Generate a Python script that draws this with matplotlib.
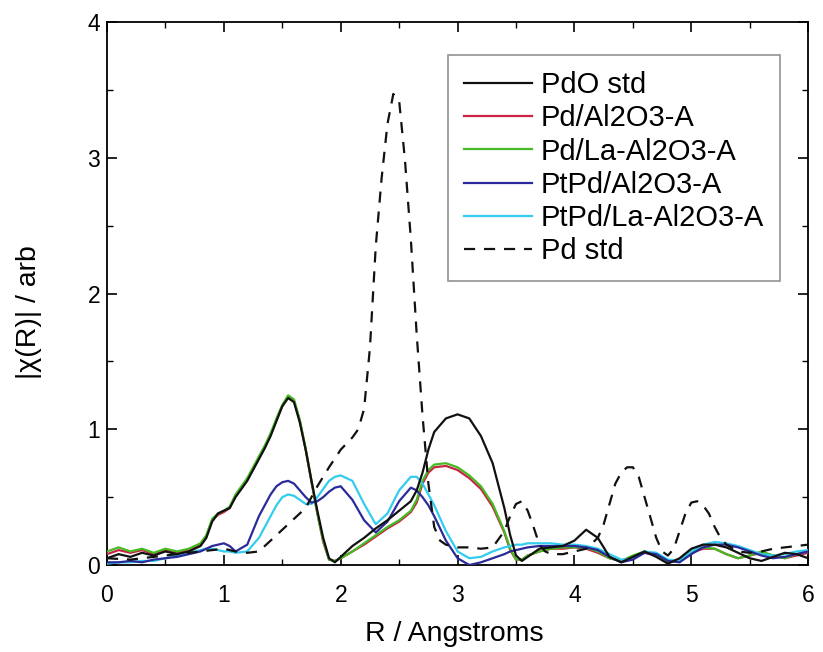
import matplotlib
matplotlib.use("Agg")
import matplotlib.pyplot as plt
from matplotlib.ticker import MultipleLocator

plt.rcParams['font.family'] = ['Liberation Sans', 'DejaVu Sans']

# common R grid for the sample / PdO curves
r = [0, 0.1, 0.2, 0.3, 0.4, 0.5, 0.6, 0.7, 0.8, 0.85, 0.9, 0.95, 1.0, 1.05, 1.1,
     1.2, 1.3, 1.35, 1.4, 1.45, 1.5, 1.55, 1.6, 1.65, 1.7, 1.75, 1.8, 1.85, 1.9,
     1.95, 2.0, 2.1, 2.2, 2.3, 2.4, 2.5, 2.6, 2.65, 2.7, 2.75, 2.8, 2.9, 3.0, 3.1,
     3.2, 3.3, 3.4, 3.45, 3.5, 3.55, 3.6, 3.7, 3.8, 3.9, 4.0, 4.1, 4.2, 4.3, 4.4,
     4.5, 4.6, 4.7, 4.8, 4.9, 5.0, 5.1, 5.2, 5.3, 5.4, 5.5, 5.6, 5.7, 5.8, 5.9, 6.0]

pdo_std = [0.05, 0.08, 0.06, 0.09, 0.07, 0.1, 0.08, 0.1, 0.14, 0.2, 0.32, 0.38,
           0.4, 0.42, 0.5, 0.62, 0.78, 0.86, 0.95, 1.06, 1.17, 1.23, 1.2, 1.05,
           0.85, 0.62, 0.4, 0.2, 0.05, 0.02, 0.06, 0.14, 0.2, 0.27, 0.33, 0.4,
           0.47, 0.55, 0.68, 0.85, 0.98, 1.08, 1.11, 1.08, 0.95, 0.75, 0.42, 0.22,
           0.07, 0.03, 0.06, 0.12, 0.13, 0.14, 0.18, 0.26, 0.2, 0.06, 0.02, 0.06,
           0.1, 0.06, 0.01, 0.05, 0.12, 0.15, 0.15, 0.13, 0.09, 0.05, 0.03, 0.06,
           0.09, 0.08, 0.05]

pd_al2o3 = [0.08, 0.11, 0.09, 0.11, 0.08, 0.11, 0.09, 0.11, 0.15, 0.21, 0.33, 0.37,
            0.39, 0.42, 0.51, 0.63, 0.79, 0.87, 0.96, 1.07, 1.17, 1.24, 1.21, 1.06,
            0.85, 0.61, 0.38, 0.17, 0.04, 0.03, 0.05, 0.1, 0.15, 0.21, 0.27, 0.32,
            0.39, 0.46, 0.6, 0.68, 0.72, 0.73, 0.7, 0.64, 0.56, 0.43, 0.24, 0.11,
            0.04, 0.04, 0.07, 0.1, 0.12, 0.12, 0.13, 0.12, 0.09, 0.05, 0.03, 0.06,
            0.09, 0.07, 0.02, 0.04, 0.09, 0.12, 0.12, 0.08, 0.05, 0.07, 0.09, 0.07,
            0.05, 0.07, 0.09]

pd_la_al2o3 = [0.1, 0.13, 0.1, 0.12, 0.09, 0.12, 0.1, 0.12, 0.16, 0.22, 0.34, 0.38,
               0.4, 0.43, 0.52, 0.64, 0.8, 0.88, 0.97, 1.08, 1.18, 1.25, 1.22, 1.07,
               0.86, 0.62, 0.38, 0.18, 0.04, 0.03, 0.05, 0.1, 0.16, 0.22, 0.28, 0.33,
               0.4, 0.48, 0.62, 0.7, 0.74, 0.75, 0.72, 0.66, 0.58, 0.45, 0.25, 0.12,
               0.04, 0.04, 0.07, 0.1, 0.12, 0.13, 0.13, 0.13, 0.1, 0.05, 0.03, 0.07,
               0.1, 0.07, 0.02, 0.04, 0.1, 0.13, 0.12, 0.08, 0.05, 0.07, 0.1, 0.07,
               0.05, 0.08, 0.1]

ptpd_al2o3 = [0.02, 0.02, 0.03, 0.02, 0.04, 0.05, 0.06, 0.08, 0.1, 0.12, 0.14, 0.15,
              0.16, 0.14, 0.1, 0.15, 0.36, 0.44, 0.52, 0.58, 0.61, 0.62, 0.6, 0.55,
              0.5, 0.46, 0.47, 0.5, 0.54, 0.57, 0.58, 0.48, 0.33, 0.24, 0.32, 0.47,
              0.57, 0.55, 0.5, 0.44, 0.36, 0.18, 0.05, 0.0, 0.02, 0.05, 0.08, 0.1,
              0.11, 0.12, 0.13, 0.14, 0.14, 0.14, 0.14, 0.13, 0.11, 0.06, 0.02, 0.04,
              0.09, 0.08, 0.03, 0.02, 0.08, 0.13, 0.15, 0.15, 0.13, 0.1, 0.07, 0.05,
              0.06, 0.08, 0.1]

ptpd_la_al2o3 = [0.01, 0.02, 0.02, 0.03, 0.03, 0.05, 0.07, 0.09, 0.11, 0.12, 0.12,
                 0.11, 0.1, 0.1, 0.09, 0.1, 0.2, 0.28, 0.36, 0.44, 0.5, 0.52, 0.51,
                 0.48, 0.45, 0.45, 0.5, 0.56, 0.62, 0.65, 0.66, 0.62, 0.45, 0.3, 0.38,
                 0.55, 0.65, 0.65, 0.6, 0.52, 0.44, 0.25, 0.1, 0.05, 0.06, 0.1, 0.13,
                 0.14, 0.15, 0.15, 0.16, 0.16, 0.16, 0.15, 0.15, 0.14, 0.12, 0.08,
                 0.04, 0.05, 0.1, 0.09, 0.04, 0.03, 0.1, 0.15, 0.17, 0.16, 0.14, 0.11,
                 0.08, 0.07, 0.08, 0.1, 0.11]

r_pd = [0, 0.2, 0.4, 0.6, 0.8, 1.0, 1.1, 1.2, 1.3, 1.4, 1.5, 1.6, 1.7, 1.8, 1.9,
        2.0, 2.1, 2.15, 2.2, 2.25, 2.3, 2.35, 2.4, 2.45, 2.5, 2.55, 2.6, 2.65, 2.7,
        2.75, 2.8, 2.85, 2.9, 3.0, 3.1, 3.2, 3.3, 3.4, 3.45, 3.5, 3.55, 3.6, 3.65,
        3.7, 3.75, 3.8, 3.9, 4.0, 4.1, 4.2, 4.25, 4.3, 4.35, 4.4, 4.45, 4.5, 4.55,
        4.6, 4.65, 4.7, 4.75, 4.8, 4.85, 4.9, 4.95, 5.0, 5.05, 5.1, 5.15, 5.2, 5.25,
        5.3, 5.4, 5.5, 5.6, 5.7, 5.8, 5.9, 6.0]
pd_std = [0.05, 0.04, 0.06, 0.08, 0.1, 0.12, 0.1, 0.09, 0.1, 0.18, 0.26, 0.34,
          0.42, 0.58, 0.72, 0.85, 0.94, 1.0, 1.15, 1.6, 2.35, 2.85, 3.25, 3.47,
          3.42, 2.98, 2.4, 1.7, 1.1, 0.6, 0.28, 0.18, 0.15, 0.13, 0.13, 0.12, 0.13,
          0.25, 0.36, 0.45, 0.47, 0.4, 0.28, 0.15, 0.1, 0.08, 0.08, 0.1, 0.12, 0.2,
          0.3, 0.45, 0.6, 0.68, 0.72, 0.72, 0.65, 0.5, 0.35, 0.2, 0.1, 0.07, 0.12,
          0.25, 0.38, 0.46, 0.47, 0.44, 0.38, 0.28, 0.2, 0.15, 0.1, 0.09, 0.1, 0.12,
          0.13, 0.14, 0.15]

labels = ["PdO std", "Pd/Al2O3-A", "Pd/La-Al2O3-A", "PtPd/Al2O3-A",
          "PtPd/La-Al2O3-A", "Pd std"]

fig = plt.figure(figsize=(8.23, 6.52), dpi=100)
ax = fig.add_axes([0.130, 0.1334, 0.852, 0.8328])

lw = 1.6
ax.plot(r, pdo_std, color="#111111", lw=lw, label=labels[0], zorder=6)
ax.plot(r, pd_al2o3, color="#cc2244", lw=lw, label=labels[1], zorder=3)
ax.plot(r, pd_la_al2o3, color="#44bb22", lw=lw, label=labels[2], zorder=4)
ax.plot(r, ptpd_al2o3, color="#2a2a9a", lw=lw, label=labels[3], zorder=5)
ax.plot(r, ptpd_la_al2o3, color="#33ccee", lw=lw, label=labels[4], zorder=4)
ax.plot(r_pd, pd_std, color="#111111", lw=lw, ls=(0, (5, 4)), label=labels[5], zorder=7)

ax.set_xlim(0, 6)
ax.set_ylim(0, 4)
ax.xaxis.set_major_locator(MultipleLocator(1))
ax.xaxis.set_minor_locator(MultipleLocator(0.5))
ax.yaxis.set_major_locator(MultipleLocator(1))
ax.yaxis.set_minor_locator(MultipleLocator(0.5))
ax.tick_params(which="both", direction="in", top=True, right=True, labelsize=16.5)
ax.tick_params(which="major", length=7, width=1.2)
ax.tick_params(which="minor", length=4, width=1.0)
ax.tick_params(axis="x", which="major", pad=14)
ax.tick_params(axis="y", which="major", pad=5)
for s in ax.spines.values():
    s.set_linewidth(1.3)

ax.set_xlabel("R / Angstroms", fontsize=20.5)
ax.set_ylabel("|\u03c7(R)| / arb", fontsize=20.5)
ax.xaxis.set_label_coords(0.495, -0.104)
ax.yaxis.set_label_coords(-0.092, 0.466)

leg = ax.legend(loc="upper right", bbox_to_anchor=(0.96, 0.939), borderaxespad=0,
                fontsize=21, handlelength=2.35, handletextpad=0.3,
                labelspacing=0.18, borderpad=0.55, frameon=True, fancybox=False)
leg.get_frame().set_edgecolor("#777777")
leg.get_frame().set_linewidth(1.2)

fig.savefig("out.png", dpi=100)
